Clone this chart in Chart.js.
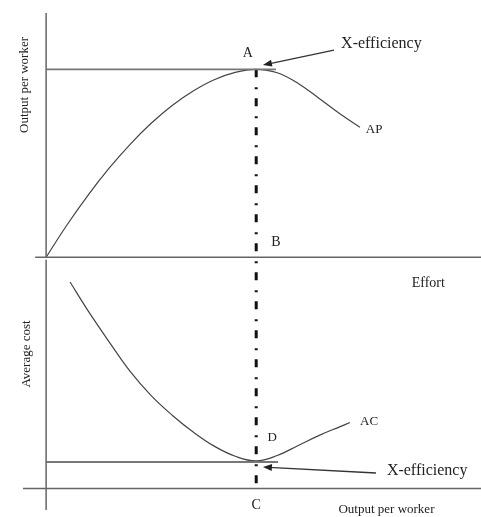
<!DOCTYPE html>
<html>
<head>
<meta charset="utf-8">
<script src="https://cdn.jsdelivr.net/npm/chart.js@4.4.1/dist/chart.umd.min.js"></script>
<style>
  html, body { margin: 0; padding: 0; background: #fff; }
  #wrap { position: relative; width: 481px; height: 517px; }
</style>
</head>
<body>
<div id="wrap"><canvas id="Grafico" width="481" height="517"></canvas></div>
<script>
// Painel de cima: produto médio (AP) em função do esforço
const apEffort = [0, 0.5, 1.0, 1.5, 2.0, 2.5, 3.0, 3.5, 4.0, 4.5, 5.0, 5.5, 6.0, 6.5, 7.0, 7.47];
const apOutput = [0, 1.73, 3.31, 4.74, 6.01, 7.13, 8.08, 8.85, 9.45, 9.84, 10, 9.82, 9.25, 8.45, 7.62, 6.92];

// Painel de baixo: custo médio (AC) em função do produto por trabalhador
const acOutput = [0.57, 1.0, 1.5, 2.0, 2.5, 3.0, 3.5, 4.0, 4.5, 5.0, 5.5, 6.0, 6.5, 7.0, 7.23];
const acCost = [15.35, 13.2, 10.9, 8.7, 6.9, 5.45, 4.2, 3.15, 2.4, 2.05, 2.45, 3.2, 3.95, 4.6, 4.9];

// Pontos de X-eficiência
const efficientX = 5;
const maxOutput = 10;
const minCost = 1.97;

// Textos do gráfico
const topYTitle = 'Output per worker';
const bottomYTitle = 'Average cost';
const topXTitle = 'Effort';
const bottomXTitle = 'Output per worker';

const toPoints = (xs, ys) => xs.map((x, i) => ({ x: x, y: ys[i] }));

const line = (data, axis, extra) => Object.assign({
    data: data,
    yAxisID: axis,
    borderColor: '#666',
    borderWidth: 1.5,
    pointRadius: 0,
    fill: false,
    clip: false
}, extra || {});

const datasets = [
    // eixos
    line([{ x: 0, y: 13 }, { x: 0, y: 0 }], 'yTop'),
    line([{ x: -0.26, y: 0 }, { x: 10.35, y: 0 }], 'yTop'),
    line([{ x: 0, y: 17 }, { x: 0, y: -1.6 }], 'yBot'),
    line([{ x: -0.55, y: 0 }, { x: 10.35, y: 0 }], 'yBot'),
    // linhas de X-eficiência
    line([{ x: 0, y: maxOutput }, { x: 5.47, y: maxOutput }], 'yTop', { borderColor: '#777', borderWidth: 1.8 }),
    line([{ x: 0, y: minCost }, { x: 5.52, y: minCost }], 'yBot', { borderColor: '#777', borderWidth: 1.8 }),
    // curvas
    line(toPoints(apEffort, apOutput), 'yTop', { borderColor: '#444', borderWidth: 1.2, tension: 0.4 }),
    line(toPoints(acOutput, acCost), 'yBot', { borderColor: '#444', borderWidth: 1.2, tension: 0.4 }),
    // linha tracejada vertical (traço-ponto)
    line([{ x: efficientX, y: maxOutput }, { x: efficientX, y: -12.4 }], 'yTop', {
        borderColor: '#111', borderWidth: 3, borderDash: [8, 10, 2, 9], borderCapStyle: 'butt'
    })
];

// Rótulos e setas (em unidades dos eixos)
const labels = [
    { text: 'A', x: 4.8, y: 10.87, axis: 'yTop', align: 'center', size: 14 },
    { text: 'X-efficiency', x: 7.02, y: 11.35, axis: 'yTop', align: 'left', size: 16 },
    { text: 'AP', x: 7.61, y: 6.77, axis: 'yTop', align: 'left', size: 13 },
    { text: 'B', x: 5.47, y: 0.81, axis: 'yTop', align: 'center', size: 14 },
    { text: topXTitle, x: 8.7, y: -1.37, axis: 'yTop', align: 'left', size: 14 },
    { text: 'D', x: 5.38, y: 3.75, axis: 'yBot', align: 'center', size: 13 },
    { text: 'AC', x: 7.47, y: 4.94, axis: 'yBot', align: 'left', size: 13 },
    { text: 'X-efficiency', x: 8.11, y: 1.3, axis: 'yBot', align: 'left', size: 16 },
    { text: 'C', x: 5.0, y: -1.23, axis: 'yBot', align: 'center', size: 14 },
    { text: bottomXTitle, x: 8.1, y: -1.6, axis: 'yBot', align: 'center', size: 13 }
];
const rotatedLabels = [
    { text: topYTitle, x: -0.52, y: 9.17, axis: 'yTop', size: 13 },
    { text: bottomYTitle, x: -0.47, y: 10.0, axis: 'yBot', size: 13 }
];
const arrows = [
    { from: [6.85, 11.03], to: [5.16, 10.23], axis: 'yTop' },
    { from: [7.85, 1.15], to: [5.16, 1.6], axis: 'yBot' }
];

const annotations = {
    id: 'annotations',
    afterDatasetsDraw(chart) {
        const ctx = chart.ctx;
        const xs = chart.scales.x;
        ctx.save();
        ctx.fillStyle = '#222';
        ctx.textBaseline = 'middle';
        labels.forEach(l => {
            const ys = chart.scales[l.axis];
            ctx.font = l.size + 'px "Liberation Serif", "Times New Roman", serif';
            ctx.textAlign = l.align;
            ctx.fillText(l.text, xs.getPixelForValue(l.x), ys.getPixelForValue(l.y));
        });
        rotatedLabels.forEach(l => {
            const ys = chart.scales[l.axis];
            ctx.save();
            ctx.translate(xs.getPixelForValue(l.x), ys.getPixelForValue(l.y));
            ctx.rotate(-Math.PI / 2);
            ctx.font = l.size + 'px "Liberation Serif", "Times New Roman", serif';
            ctx.textAlign = 'center';
            ctx.fillText(l.text, 0, 0);
            ctx.restore();
        });
        ctx.strokeStyle = '#333';
        ctx.fillStyle = '#222';
        ctx.lineWidth = 1.3;
        arrows.forEach(a => {
            const ys = chart.scales[a.axis];
            const x1 = xs.getPixelForValue(a.from[0]), y1 = ys.getPixelForValue(a.from[1]);
            const x2 = xs.getPixelForValue(a.to[0]), y2 = ys.getPixelForValue(a.to[1]);
            const ang = Math.atan2(y2 - y1, x2 - x1);
            ctx.beginPath();
            ctx.moveTo(x1, y1);
            ctx.lineTo(x2 - 6 * Math.cos(ang), y2 - 6 * Math.sin(ang));
            ctx.stroke();
            ctx.beginPath();
            ctx.moveTo(x2, y2);
            ctx.lineTo(x2 - 9 * Math.cos(ang) + 3.5 * Math.sin(ang), y2 - 9 * Math.sin(ang) - 3.5 * Math.cos(ang));
            ctx.lineTo(x2 - 9 * Math.cos(ang) - 3.5 * Math.sin(ang), y2 - 9 * Math.sin(ang) + 3.5 * Math.cos(ang));
            ctx.closePath();
            ctx.fill();
        });
        ctx.restore();
    }
};

new Chart(document.getElementById('Grafico').getContext('2d'), {
    type: 'line',
    data: { datasets: datasets },
    options: {
        responsive: false,
        animation: false,
        layout: { padding: { left: 23, right: 0, top: 13, bottom: 7 } },
        plugins: { legend: { display: false }, tooltip: { enabled: false } },
        scales: {
            x: { type: 'linear', min: -0.55, max: 10.35, display: false },
            yTop: { type: 'linear', min: -13.45, max: 13.0, display: false },
            yBot: { type: 'linear', min: -1.6, max: 35.35, display: false }
        }
    },
    plugins: [annotations]
});
</script>
</body>
</html>
